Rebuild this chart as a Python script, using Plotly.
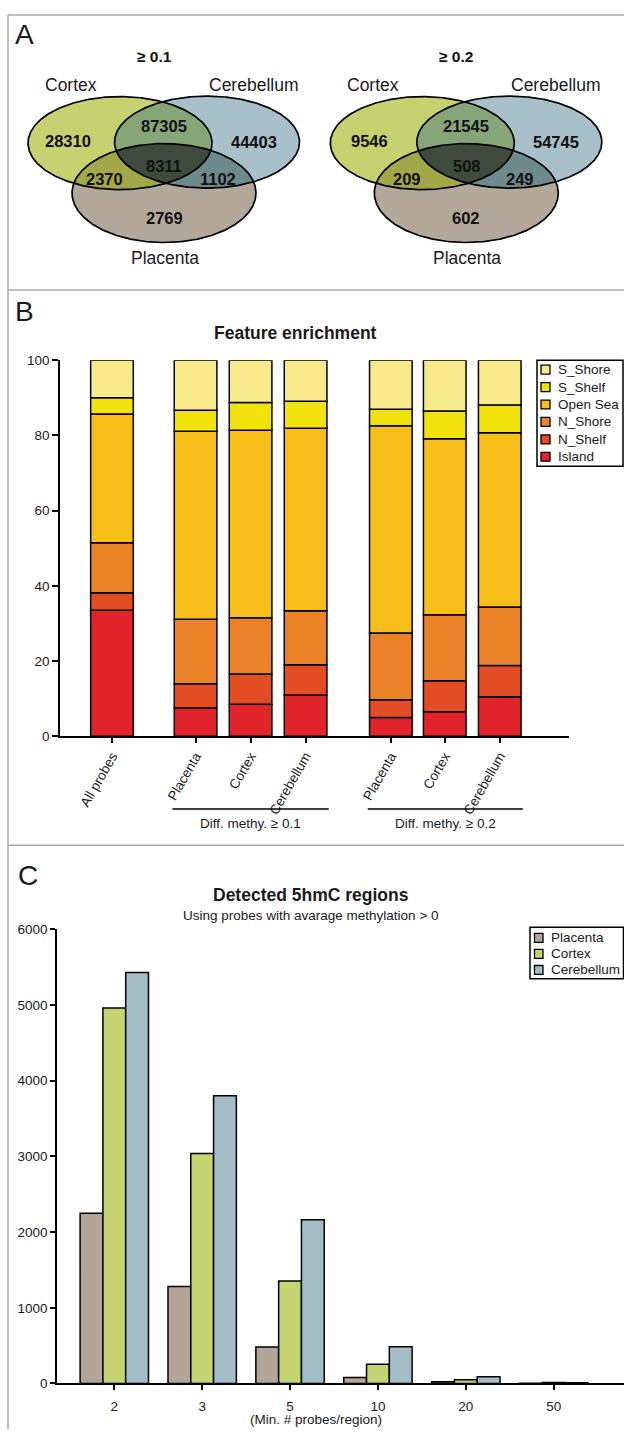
import numpy as np
import plotly.graph_objects as go

W, H = 624, 1437
FONT = "Liberation Sans, Arial, Helvetica, sans-serif"
TXT = "#1a1a1a"

# ---------------- Panel A data (Venn counts) ----------------
venn_sets = ["Cortex", "Cerebellum", "Placenta"]
venn_thresholds = ["≥ 0.1", "≥ 0.2"]
venn_region_keys = ["Cortex", "Cortex&Cerebellum", "Cerebellum", "All",
                    "Cortex&Placenta", "Cerebellum&Placenta", "Placenta"]
venn_counts_01 = [28310, 87305, 44403, 8311, 2370, 1102, 2769]
venn_counts_02 = [9546, 21545, 54745, 508, 209, 249, 602]

# ---------------- Panel B data (stacked %, bottom -> top) ----------------
b_categories = ["All probes", "Placenta", "Cortex", "Cerebellum",
                "Placenta", "Cortex", "Cerebellum"]
b_groups = ["Diff. methy. ≥ 0.1", "Diff. methy. ≥ 0.2"]
b_features = ["Island", "N_Shelf", "N_Shore", "Open Sea", "S_Shelf", "S_Shore"]
island = [33.5, 7.5, 8.5, 11.0, 5.0, 6.5, 10.5]
n_shelf = [4.7, 6.5, 8.1, 8.0, 4.7, 8.3, 8.3]
n_shore = [13.3, 17.1, 14.9, 14.4, 17.8, 17.5, 15.6]
open_sea = [34.2, 50.0, 49.9, 48.5, 55.1, 46.8, 46.3]
s_shelf = [4.3, 5.6, 7.4, 7.2, 4.4, 7.4, 7.4]
s_shore = [10.0, 13.3, 11.2, 10.9, 13.0, 13.5, 11.9]

# ---------------- Panel C data ----------------
c_tissues = ["Placenta", "Cortex", "Cerebellum"]
c_bins = ["2", "3", "5", "10", "20", "50"]
c_placenta = [2250, 1280, 481, 79, 22, 3]
c_cortex = [4960, 3037, 1354, 255, 48, 14]
c_cerebellum = [5430, 3800, 2162, 485, 90, 8]

# ---------------- styles ----------------
venn_fill = {"Cortex": "#c6d26f", "Cerebellum": "#a8c0ca", "Placenta": "#b4a89a",
             "Cortex&Cerebellum": "#87a678", "Cortex&Placenta": "#a2a847",
             "Cerebellum&Placenta": "#6f8a8c", "All": "#3f4c3d"}
feat_colors = {"Island": "#e1242a", "N_Shelf": "#e44c24", "N_Shore": "#ec8227",
               "Open Sea": "#f7be1a", "S_Shelf": "#f1e20c", "S_Shore": "#f8e98b"}
tissue_colors = {"Placenta": "#b3a698", "Cortex": "#c4d472", "Cerebellum": "#a4bcc6"}


def P(xpx, ypx):
    return xpx / W, 1 - ypx / H


annotations = []
shapes = []


def text(xpx, ypx, s, size=13, anchor="center", color=TXT):
    x, y = P(xpx, ypx)
    annotations.append(dict(xref="paper", yref="paper", x=x, y=y, text=s, showarrow=False,
                            xanchor=anchor, yanchor="middle",
                            font=dict(size=size, color=color, family=FONT)))


fig = go.Figure()

# ---------------- Panel A: Venn diagrams (pixel-unit overlay axes) ----------------
venn_centers = [164.0, 466.3]
ell_geom = {"Cortex": (-44.0, 137.5, 92.0, 47.0),
            "Cerebellum": (43.0, 136.5, 92.5, 46.5),
            "Placenta": (0.0, 188.0, 92.0, 50.0)}


def ell_pts(e, n=720):
    cx, cy, rx, ry = e
    t = np.linspace(0, 2 * np.pi, n, endpoint=False)
    return np.c_[cx + rx * np.cos(t), cy + ry * np.sin(t)]


def inside(p, e):
    cx, cy, rx, ry = e
    return ((p[:, 0] - cx) / rx) ** 2 + ((p[:, 1] - cy) / ry) ** 2 <= 1 + 1e-9


def intersect(ells):
    pts = []
    for i, e in enumerate(ells):
        p = ell_pts(e)
        m = np.ones(len(p), bool)
        for j, f in enumerate(ells):
            if j != i:
                m &= inside(p, f)
        pts.append(p[m])
    pts = np.vstack(pts)
    c = pts.mean(axis=0)
    a = np.arctan2(pts[:, 1] - c[1], pts[:, 0] - c[0])
    pts = pts[np.argsort(a)]
    return np.vstack([pts, pts[:1]])


def vtrace(pts, fill=None, line=False):
    return go.Scatter(x=pts[:, 0], y=pts[:, 1], mode="lines",
                      fill="toself" if fill else None, fillcolor=fill,
                      line=dict(color="black", width=1.7 if line else 0),
                      xaxis="x3", yaxis="y3", hoverinfo="skip", showlegend=False)


label_off = {"Cortex": (-96.5, 135), "Cortex&Cerebellum": (-0.5, 120.5),
             "Cerebellum": (89.5, 136), "All": (0.3, 160.5),
             "Cortex&Placenta": (-59.3, 174), "Cerebellum&Placenta": (54.0, 174),
             "Placenta": (0.0, 213)}
set_label_off = {"Cortex": (-93.0, 79), "Cerebellum": (89.0, 79), "Placenta": (0.5, 254)}

for vc, thr, counts in zip(venn_centers, venn_thresholds, [venn_counts_01, venn_counts_02]):
    E = {k: (vc + g[0], g[1], g[2], g[3]) for k, g in ell_geom.items()}
    for k in venn_sets:
        p = ell_pts(E[k]); p = np.vstack([p, p[:1]])
        fig.add_trace(vtrace(p, venn_fill[k]))
    for a, b in [("Cortex", "Cerebellum"), ("Cortex", "Placenta"), ("Cerebellum", "Placenta")]:
        fig.add_trace(vtrace(intersect([E[a], E[b]]), venn_fill[a + "&" + b]))
    fig.add_trace(vtrace(intersect([E[k] for k in venn_sets]), venn_fill["All"]))
    for k in venn_sets:
        p = ell_pts(E[k]); p = np.vstack([p, p[:1]])
        fig.add_trace(vtrace(p, None, line=True))
    for key, cnt in zip(venn_region_keys, counts):
        dx, y = label_off[key]
        text(vc + dx, y, f"<b>{cnt}</b>", size=16.5, color="#111")
    for k in venn_sets:
        dx, y = set_label_off[k]
        text(vc + dx, y, k, size=17.5)
    text(vc - 10, 50, f"<b>{thr}</b>", size=15.5, color="#111")

# ---------------- Panel B: stacked bars ----------------
b_pos = [0, 1.52, 2.52, 3.52, 5.07, 6.05, 7.05]
b_width = 0.775
b_series = [island, n_shelf, n_shore, open_sea, s_shelf, s_shore]
base = np.zeros(len(b_categories))
for name, vals in zip(b_features, b_series):
    fig.add_trace(go.Bar(x=b_pos, y=vals, base=base.copy(), name=name, width=b_width,
                         offsetgroup="stack", xaxis="x", yaxis="y", showlegend=False,
                         marker=dict(color=feat_colors[name], line=dict(color="black", width=1.5)),
                         hovertemplate=name + ": %{y}<extra></extra>"))
    base += np.array(vals)

# ---------------- Panel C: grouped bars ----------------
for name, vals in zip(c_tissues, [c_placenta, c_cortex, c_cerebellum]):
    fig.add_trace(go.Bar(x=c_bins, y=vals, name=name, xaxis="x2", yaxis="y2", showlegend=False,
                         marker=dict(color=tissue_colors[name], line=dict(color="black", width=1.5))))

axis_common = dict(showline=True, linecolor="black", linewidth=1.5, ticks="outside",
                   tickcolor="black", tickwidth=1.5, showgrid=False, zeroline=False,
                   tickfont=dict(size=13.5, color=TXT, family=FONT), fixedrange=True)

xB0, yB0 = P(60, 737)
xB1, yB1 = P(569, 357)
xC0, yC0 = P(57, 1391)
xC1, yC1 = P(624, 932)

fig.update_layout(
    width=W, height=H, margin=dict(l=0, r=0, t=0, b=0),
    paper_bgcolor="white", plot_bgcolor="rgba(0,0,0,0)",
    font=dict(family=FONT, color=TXT, size=13), showlegend=False,
    barmode="group", bargap=0.222, bargroupgap=0,
    xaxis=dict(domain=[xB0, xB1], range=[-0.945, 8.309], tickvals=b_pos, ticktext=b_categories,
               tickangle=-60, ticklen=5, anchor="y", **axis_common),
    yaxis=dict(domain=[yB0, yB1], range=[0, 100], tickvals=[0, 20, 40, 60, 80, 100],
               ticklen=6, anchor="x", **axis_common),
    xaxis2=dict(domain=[xC0, 1.0], range=[-0.652, 5.8], type="category", ticklen=5,
                ticklabelstandoff=5, anchor="y2", **axis_common),
    yaxis2=dict(domain=[yC0, yC1], range=[0, 6000], tickvals=list(range(0, 6001, 1000)),
                ticklen=5, anchor="x2", **axis_common),
    xaxis3=dict(domain=[0, 1], range=[0, W], visible=False, fixedrange=True, anchor="y3"),
    yaxis3=dict(domain=[1 - 286 / H, 1], range=[286, 0], visible=False, fixedrange=True, anchor="x3"),
)


def rect(x0, y0, x1, y1, fill, lw=1.5):
    a0, b0 = P(x0, y0)
    a1, b1 = P(x1, y1)
    shapes.append(dict(type="rect", xref="paper", yref="paper", x0=a0, x1=a1, y0=b1, y1=b0,
                       fillcolor=fill, line=dict(color="black", width=lw)))


# ---- legend, panel B (drawn manually to match the original compact box) ----
rect(537, 357, 623, 464, "white")
for i, name in enumerate(reversed(b_features)):
    yc = 366.5 + i * 17.6
    rect(541, yc - 4.5, 550, yc + 4.5, feat_colors[name], lw=1.3)
    text(556, yc, name, size=13.5, anchor="left")

# ---- legend, panel C ----
rect(530, 930, 623.5, 982, "white")
for i, name in enumerate(c_tissues):
    yc = 940.7 + i * 16.2
    rect(534.5, yc - 4.5, 543, yc + 4.5, tissue_colors[name], lw=1.3)
    text(549, yc, name, size=13.5, anchor="left")

# panel frame lines
frame = "#a8a8a8"
for (x0, y0, x1, y1) in [(8, 8, W, 8), (8, 8, 8, H), (8, 286, W, 286), (8, 847, W, 847)]:
    a0, b0 = P(x0, y0)
    a1, b1 = P(x1, y1)
    shapes.append(dict(type="line", xref="paper", yref="paper", x0=a0, x1=a1, y0=b0, y1=b1,
                       line=dict(color=frame, width=1.5)))

# group underline for panel B
for (i0, i1), g in zip([(1, 3), (4, 6)], b_groups):
    shapes.append(dict(type="line", xref="x", yref="paper", x0=b_pos[i0] - 0.42, x1=b_pos[i1] + 0.42,
                       y0=1 - 810.5 / H, y1=1 - 810.5 / H, line=dict(color="black", width=1.5)))
    annotations.append(dict(xref="x", yref="paper", x=(b_pos[i0] + b_pos[i1]) / 2, y=1 - 825 / H,
                            text=g, showarrow=False, xanchor="center", yanchor="middle",
                            font=dict(size=13.5, color=TXT, family=FONT)))

# panel letters & titles
for letter, (lx, ly) in zip("ABC", [(24, 28), (24, 308), (28, 878)]):
    text(lx, ly, letter, size=28)

text(295, 329, "<b>Feature enrichment</b>", size=17.5)
text(311, 897, "<b>Detected 5hmC regions</b>", size=17.5)
text(311, 918, "Using probes with avarage methylation > 0", size=13.5)
text(316, 1427, "(Min. # probes/region)", size=13.5)

fig.update_layout(shapes=shapes, annotations=annotations)
fig.write_html(
    "out.html",
    config={"displayModeBar": False},
    post_script=("document.documentElement.style.margin='0';document.body.style.margin='0';"
                 "document.body.style.overflow='hidden';"
                 "var d=document.getElementById('{plot_id}');d.style.position='fixed';"
                 "d.style.left='0px';d.style.top='0px';"),
)
